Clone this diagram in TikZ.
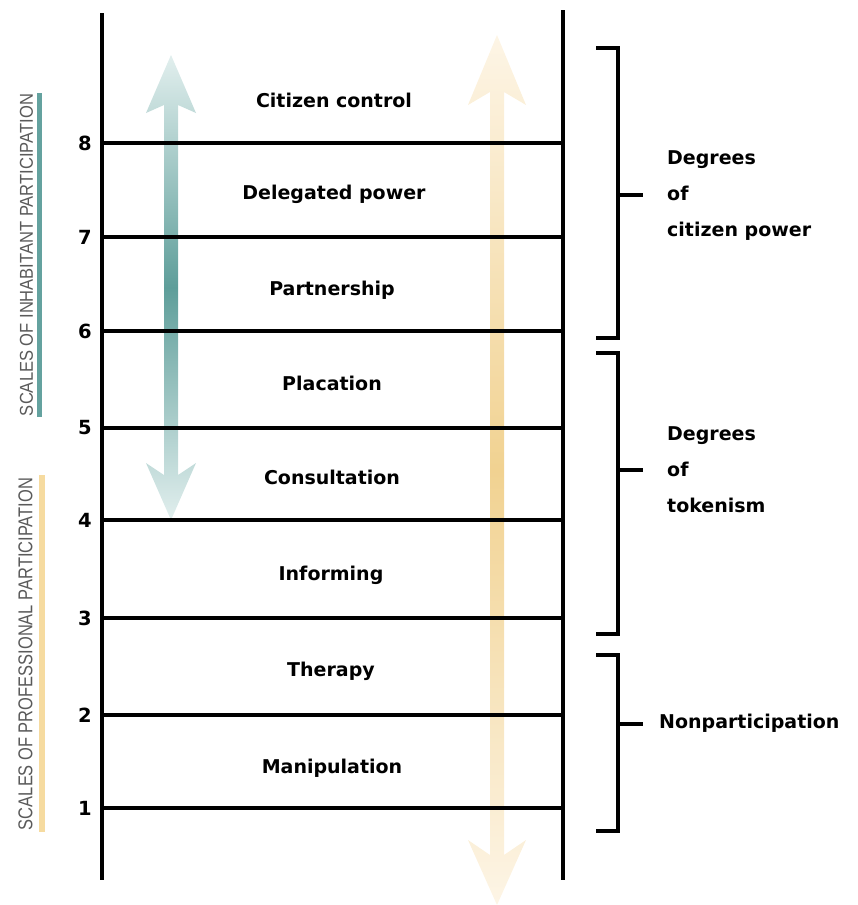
\documentclass[tikz,border=0pt]{standalone}
\usepackage{fontspec}
\setmainfont{DejaVu Sans}
\newfontfamily\sidefont{Liberation Sans}
\definecolor{tealdark}{HTML}{5E9E9A}
\definecolor{teallight}{HTML}{E2EFEE}
\definecolor{yelldark}{HTML}{F1D291}
\definecolor{yelllight}{HTML}{FDF5E6}
\definecolor{sidegray}{HTML}{5A5A5A}
\definecolor{tealbar}{HTML}{64A29F}
\definecolor{yellbar}{HTML}{F6DBA0}
\begin{document}
\begin{tikzpicture}[x=1pt,y=-1pt,
  rail/.style={line width=3.6pt,black},
  rung/.style={line width=3.4pt,black},
  brack/.style={line width=3.4pt,black},
  num/.style={font=\bfseries\fontsize{19.5}{22}\selectfont,inner sep=0pt},
  lab/.style={font=\bfseries\fontsize{19}{22}\selectfont,inner sep=0pt},
  grp/.style={font=\bfseries\fontsize{19}{36}\selectfont,inner sep=0pt,anchor=west,align=left},
  side/.style={inner sep=0pt,rotate=90,text=sidegray}]
\useasboundingbox (0,0) rectangle (858,905);
% teal double arrow
\shade[top color=teallight,bottom color=teallight,middle color=tealdark]
  (171,55) -- (196,113) -- (178,105) -- (178,475) -- (196,463) -- (171,520)
  -- (146,463) -- (164,475) -- (164,105) -- (146,113) -- cycle;
% yellow double arrow
\shade[top color=yelllight,bottom color=yelllight,middle color=yelldark]
  (497,35) -- (526,105) -- (504,92) -- (504,855) -- (526,840) -- (497,905)
  -- (468,840) -- (490,855) -- (490,92) -- (468,105) -- cycle;
% rails
\coordinate (lt) at (102,13); \coordinate (lb) at (102,880);
\coordinate (rt) at (563,10); \coordinate (rb) at (563,880);
\draw[rail] (lt) -- (lb);
\draw[rail] (rt) -- (rb);
% rungs and numbers
\foreach \n/\y in {8/143,7/237,6/331,5/428,4/520,3/618,2/715,1/808}{
  \coordinate (rl\n) at (102,\y);
  \coordinate (rr\n) at (563,\y);
  \draw[rung] (rl\n) -- (rr\n);
  \node[num] (n\n) at (85,\y) {\n};
}
% step labels
\node[lab] (s9) at (334,100) {Citizen control};
\node[lab] (s8) at (334,194) {Delegated power};
\node[lab] (s7) at (332,290) {Partnership};
\node[lab] (s6) at (332,383) {Placation};
\node[lab] (s5) at (332,477) {Consultation};
\node[lab] (s4) at (331,575) {Informing};
\node[lab] (s3) at (331,671) {Therapy};
\node[lab] (s2) at (332,768) {Manipulation};
% brackets
\draw[brack] (596,48) -- (618,48) -- (618,338) -- (596,338);
\draw[brack] (618,195) -- (643,195);
\draw[brack] (596,353) -- (618,353) -- (618,634) -- (596,634);
\draw[brack] (618,470) -- (643,470);
\draw[brack] (596,655) -- (618,655) -- (618,831) -- (596,831);
\draw[brack] (618,724) -- (643,724);
\node[grp] (g1) at (667,196) {Degrees\\of\\citizen power};
\node[grp] (g2) at (667,470) {Degrees\\of\\tokenism};
\node[grp] (g3) at (659,723) {Nonparticipation};
% side labels
\fill[tealbar] (37,93) rectangle (42,417);
\fill[yellbar] (39,475) rectangle (45,832);
\node[side] (t1) at (26.5,255) {\resizebox{322pt}{13pt}{\sidefont SCALES OF INHABITANT PARTICIPATION}};
\node[side] (t2) at (25.5,654) {\resizebox{352pt}{14pt}{\sidefont SCALES OF PROFESSIONAL PARTICIPATION}};
\end{tikzpicture}
\end{document}
